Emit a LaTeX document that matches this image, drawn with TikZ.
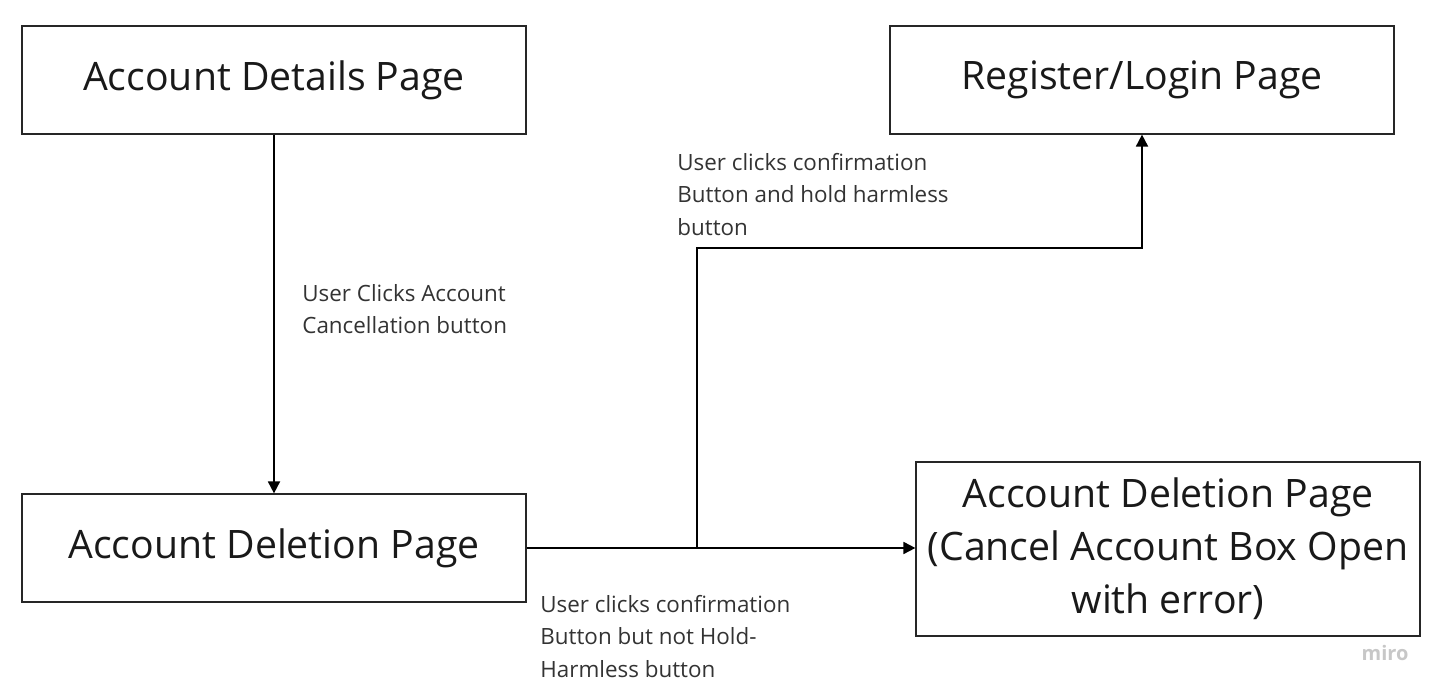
\documentclass[tikz,border=0pt]{standalone}
\usepackage{fontspec}
\setmainfont{Open Sans}
\usetikzlibrary{arrows.meta}

\tikzset{
  pagebox/.style={draw=black!85, line width=0.6pt, minimum width=252pt, minimum height=54pt,
    inner sep=0pt, align=center, font=\fontsize{19.6}{26.5}\selectfont, text=black!90},
  steplabel/.style={anchor=north west, inner sep=0pt, align=left,
    font=\fontsize{11.2}{16.2}\selectfont, text=black!80},
  flow/.style={line width=0.9pt, -{Triangle[length=6pt,width=6pt]}}
}

\begin{document}
\begin{tikzpicture}[x=0.5pt, y=-0.5pt]
\useasboundingbox (0,0) rectangle (1440,694);
% pages
\node[pagebox] (details) at (274,80) {Account Details Page};
\node[pagebox] (login) at (1142,80) {Register/Login Page};
\node[pagebox] (deletion) at (274,548) {Account Deletion Page};
\node[pagebox, minimum height=87pt] (error) at (1168,549) {Account Deletion Page\\(Cancel Account Box Open\\with error)};
% connectors
\draw[flow] (details) -- (deletion);
\draw[flow] (deletion.east) -- (error.west |- deletion.east);
\coordinate (split) at (697,548);
\coordinate (bend) at (697,248);
\draw[flow] (split) -- (bend) -| (login.south);
% labels
\node[steplabel] (cancel) at (302,284) {User Clicks Account\\Cancellation button};
\node[steplabel] (hold) at (677,153) {User clicks confirmation\\Button and hold harmless\\button};
\node[steplabel] (nohold) at (540,595) {User clicks confirmation\\Button but not Hold-\\Harmless button};
\node[font=\bfseries\fontsize{10}{12}\selectfont, text=black!22] (miro) at (1385,653) {miro};
\end{tikzpicture}
\end{document}
